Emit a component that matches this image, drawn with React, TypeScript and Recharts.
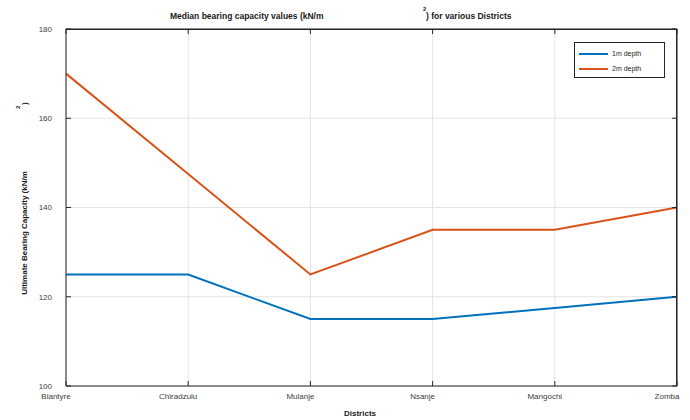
import { CartesianGrid, Label, Legend, Line, LineChart, XAxis, YAxis } from "recharts";

const districts = ["Blantyre", "Chiradzulu", "Mulanje", "Nsanje", "Mangochi", "Zomba"];
const depth1m = [125, 125, 115, 115, 117.5, 120];
const depth2m = [170, 147.5, 125, 135, 135, 140];
const yTicks = [100, 120, 140, 160, 180];

const data = districts.map((name, i) => ({ name, d1: depth1m[i], d2: depth2m[i] }));

const FONT = "'Liberation Sans', Arial, Helvetica, sans-serif";
const AXIS = "#262626";
const BLUE = "#0072BD";
const ORANGE = "#D95319";

// the 2m series sits on the mirrored top/right axes (same scales) so the full box gets drawn
const series = [
  { key: "d1", label: "1m depth", color: BLUE, xId: 0, yId: 0 },
  { key: "d2", label: "2m depth", color: ORANGE, xId: "top", yId: "right" },
];

function LegendBox() {
  return (
    <div
      style={{
        width: 89,
        height: 34,
        border: `1px solid ${AXIS}`,
        background: "#fff",
        fontFamily: FONT,
        fontSize: 7,
        color: AXIS,
        boxSizing: "content-box",
      }}
    >
      {series.map((s) => (
        <div key={s.key} style={{ display: "flex", alignItems: "center", height: 15, marginTop: s.key === "d1" ? 3 : 0 }}>
          <span style={{ display: "inline-block", width: 29, height: 2, background: s.color, marginLeft: 4, marginRight: 4 }} />
          <span>{s.label}</span>
        </div>
      ))}
    </div>
  );
}

// category labels sit a little left of their tick
function DistrictTick(props: any) {
  const { x, y, payload } = props;
  return (
    <text x={x - 10} y={y} dy="0.71em" textAnchor="middle" fill="#404040" fontSize={8} fontFamily={FONT}>
      {payload.value}
    </text>
  );
}

const Title = () => (
  <g fontFamily={FONT} fill="#1a1a1a" fontWeight="bold">
    <text x={170} y={19} fontSize={8.5}>Median bearing capacity values (kN/m</text>
    <text x={423} y={11} fontSize={6}>2</text>
    <text x={426} y={19} fontSize={8.5}>) for various Districts</text>
  </g>
);

const XTitle = () => (
  <text x={360} y={416} fontSize={8} textAnchor="middle" fontFamily={FONT} fill="#1a1a1a" fontWeight="bold">
    Districts
  </text>
);

const YTitle = () => (
  <g fontFamily={FONT} fill="#1a1a1a" fontWeight="bold">
    <text x={27} y={233} fontSize={8} textAnchor="middle" transform="rotate(-90 27 233)">
      Ultimate Bearing Capacity (kN/m
    </text>
    <text x={20} y={109} fontSize={6} transform="rotate(-90 20 109)">2</text>
    <text x={27} y={105} fontSize={8} transform="rotate(-90 27 105)">)</text>
  </g>
);

export default function App() {
  return (
    <div style={{ position: "absolute", left: 0, top: 0, width: 690, height: 420, background: "#fff" }}>
      <LineChart width={690} height={420} data={data} margin={{ top: 19, right: 3, left: 0, bottom: 0 }}>
        <CartesianGrid stroke="#e4e4e4" />
        <XAxis
          dataKey="name"
          height={34}
          interval={0}
          tickSize={-5}
          tickMargin={12}
          stroke={AXIS}
          tick={<DistrictTick />}
        >
          <Label content={<XTitle />} />
        </XAxis>
        <XAxis
          xAxisId="top"
          dataKey="name"
          orientation="top"
          height={10}
          interval={0}
          tickSize={-5}
          tick={{ fontSize: 1, fill: "none" }}
          stroke={AXIS}
        >
          <Label content={<Title />} />
        </XAxis>
        <YAxis
          width={66}
          domain={[100, 180]}
          ticks={yTicks}
          tickSize={-5}
          tickMargin={19}
          stroke={AXIS}
          tick={{ fill: "#404040", fontSize: 8, fontFamily: FONT }}
        >
          <Label content={<YTitle />} />
        </YAxis>
        <YAxis
          yAxisId="right"
          orientation="right"
          width={10}
          domain={[100, 180]}
          ticks={yTicks}
          tickSize={-5}
          tick={{ fontSize: 1, fill: "none" }}
          stroke={AXIS}
        />
        {series.map((s) => (
          <Line
            key={s.key}
            xAxisId={s.xId}
            yAxisId={s.yId}
            type="linear"
            dataKey={s.key}
            name={s.label}
            stroke={s.color}
            strokeWidth={2}
            dot={false}
            isAnimationActive={false}
          />
        ))}
        <Legend
          layout="vertical"
          align="center"
          verticalAlign="middle"
          content={() => <LegendBox />}
          wrapperStyle={{ position: "absolute", left: 574, top: 42, width: 91, height: 36 }}
        />
      </LineChart>
      {/* plot frame: top and right edges of the axes box */}
      <div
        style={{
          position: "absolute",
          left: 66,
          top: 29,
          width: 611,
          height: 357,
          borderTop: `1px solid ${AXIS}`,
          borderRight: `1px solid ${AXIS}`,
          boxSizing: "border-box",
          pointerEvents: "none",
        }}
      />
    </div>
  );
}
